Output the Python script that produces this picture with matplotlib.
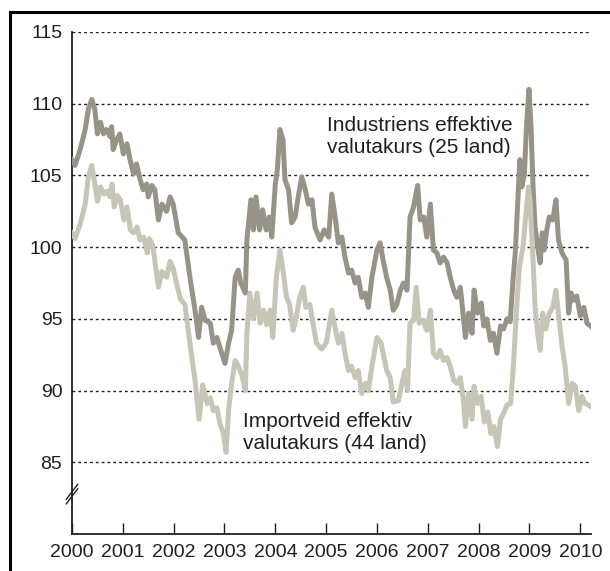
import matplotlib
matplotlib.use("Agg")
import matplotlib.pyplot as plt
import matplotlib.patches as patches

# Industriens effektive valutakurs (25 land) - decimal year, index
ind_years = [2000.00, 2000.06, 2000.16, 2000.26, 2000.32, 2000.39, 2000.45, 2000.50, 2000.56, 2000.62,
             2000.68, 2000.75, 2000.78, 2000.81, 2000.88, 2000.94, 2001.01, 2001.08, 2001.13, 2001.21,
             2001.27, 2001.34, 2001.40, 2001.47, 2001.50, 2001.57, 2001.63, 2001.70, 2001.77, 2001.86,
             2001.93, 2001.99, 2002.09, 2002.22, 2002.32, 2002.42, 2002.49, 2002.55, 2002.62, 2002.72,
             2002.78, 2002.85, 2002.91, 2003.01, 2003.08, 2003.14, 2003.21, 2003.27, 2003.32, 2003.41,
             2003.44, 2003.52, 2003.57, 2003.62, 2003.69, 2003.75, 2003.82, 2003.88, 2003.93, 2004.00,
             2004.04, 2004.09, 2004.15, 2004.19, 2004.26, 2004.32, 2004.39, 2004.45, 2004.52, 2004.59,
             2004.65, 2004.72, 2004.78, 2004.88, 2004.96, 2005.05, 2005.11, 2005.18, 2005.24, 2005.31,
             2005.37, 2005.44, 2005.50, 2005.57, 2005.63, 2005.70, 2005.77, 2005.83, 2005.90, 2006.00,
             2006.06, 2006.12, 2006.19, 2006.26, 2006.32, 2006.39, 2006.46, 2006.52, 2006.59, 2006.65,
             2006.72, 2006.80, 2006.85, 2006.92, 2006.98, 2007.05, 2007.11, 2007.18, 2007.24, 2007.31,
             2007.38, 2007.44, 2007.51, 2007.57, 2007.64, 2007.74, 2007.80, 2007.87, 2007.91, 2007.98,
             2008.05, 2008.10, 2008.16, 2008.23, 2008.29, 2008.36, 2008.43, 2008.49, 2008.56, 2008.62,
             2008.68, 2008.72, 2008.77, 2008.81, 2008.85, 2008.90, 2008.94, 2008.99, 2009.03, 2009.07,
             2009.11, 2009.16, 2009.21, 2009.25, 2009.29, 2009.34, 2009.39, 2009.46, 2009.52, 2009.57,
             2009.64, 2009.72, 2009.77, 2009.82, 2009.87, 2009.93, 2010.00, 2010.07, 2010.13, 2010.20]
ind_values = [106.1, 105.7, 106.8, 108.2, 109.6, 110.3, 109.6, 107.9, 108.7, 107.9,
              108.2, 107.7, 108.4, 106.8, 107.5, 107.9, 106.5, 107.2, 106.3, 105.1,
              105.8, 104.7, 104.0, 104.4, 103.5, 104.3, 104.0, 101.9, 103.0, 102.5,
              103.5, 103.0, 101.0, 100.5, 97.9, 95.6, 93.7, 95.8, 94.9, 94.7,
              93.3, 93.7, 93.0, 91.9, 93.3, 94.2, 97.9, 98.4, 97.5, 96.8,
              100.5, 103.3, 101.2, 103.5, 101.2, 102.6, 101.2, 102.1, 100.7, 104.4,
              105.4, 108.2, 107.5, 104.7, 104.0, 101.7, 102.1, 103.5, 104.9, 104.0,
              103.0, 103.3, 101.4, 100.5, 101.2, 100.7, 103.7, 102.0, 100.3, 100.7,
              99.3, 98.2, 98.4, 97.5, 97.9, 96.5, 96.8, 95.8, 97.9, 99.8,
              100.3, 99.1, 97.9, 97.0, 95.6, 96.0, 97.0, 97.5, 97.0, 102.1,
              102.8, 104.3, 101.9, 102.1, 100.7, 103.0, 99.8, 99.6, 98.9, 99.3,
              98.9, 97.9, 97.0, 96.5, 97.2, 93.7, 95.4, 94.0, 97.0, 95.4,
              96.1, 94.5, 95.0, 93.5, 94.0, 92.6, 94.5, 94.3, 95.0, 94.8,
              97.9, 99.6, 103.3, 106.1, 104.2, 105.1, 108.4, 111.0, 108.4, 104.2,
              101.4, 100.0, 98.9, 101.0, 99.8, 101.2, 102.1, 101.9, 103.3, 100.5,
              99.6, 99.1, 95.4, 96.8, 96.3, 96.6, 95.2, 95.8, 94.7, 94.5]

# Importveid effektiv valutakurs (44 land)
imp_years = [2000.00, 2000.06, 2000.16, 2000.26, 2000.32, 2000.39, 2000.45, 2000.50, 2000.56, 2000.63,
             2000.69, 2000.75, 2000.79, 2000.83, 2000.89, 2000.95, 2001.02, 2001.08, 2001.15, 2001.21,
             2001.28, 2001.34, 2001.41, 2001.48, 2001.52, 2001.59, 2001.70, 2001.77, 2001.86, 2001.93,
             2001.99, 2002.13, 2002.22, 2002.32, 2002.42, 2002.50, 2002.57, 2002.66, 2002.72, 2002.78,
             2002.85, 2002.91, 2002.98, 2003.03, 2003.08, 2003.14, 2003.21, 2003.27, 2003.34, 2003.41,
             2003.44, 2003.50, 2003.57, 2003.64, 2003.70, 2003.77, 2003.83, 2003.90, 2003.95, 2004.02,
             2004.09, 2004.15, 2004.22, 2004.28, 2004.35, 2004.41, 2004.48, 2004.55, 2004.60, 2004.68,
             2004.74, 2004.81, 2004.91, 2005.00, 2005.11, 2005.18, 2005.24, 2005.31, 2005.37, 2005.44,
             2005.50, 2005.57, 2005.63, 2005.70, 2005.77, 2005.83, 2005.90, 2006.00, 2006.08, 2006.12,
             2006.19, 2006.26, 2006.32, 2006.42, 2006.49, 2006.55, 2006.60, 2006.65, 2006.72, 2006.77,
             2006.83, 2006.90, 2006.98, 2007.05, 2007.11, 2007.18, 2007.24, 2007.31, 2007.38, 2007.44,
             2007.51, 2007.57, 2007.64, 2007.70, 2007.74, 2007.80, 2007.87, 2007.91, 2007.98, 2008.05,
             2008.11, 2008.18, 2008.24, 2008.30, 2008.37, 2008.43, 2008.50, 2008.56, 2008.63, 2008.69,
             2008.74, 2008.80, 2008.87, 2008.92, 2008.98, 2009.01, 2009.07, 2009.11, 2009.16, 2009.21,
             2009.26, 2009.32, 2009.39, 2009.46, 2009.52, 2009.57, 2009.64, 2009.70, 2009.77, 2009.84,
             2009.90, 2009.97, 2010.03, 2010.10, 2010.20]
imp_values = [101.0, 100.6, 101.6, 103.0, 104.9, 105.7, 104.4, 103.2, 104.2, 103.7,
              103.9, 103.5, 104.4, 102.8, 103.6, 103.3, 101.9, 102.8, 101.2, 101.0,
              101.4, 100.5, 100.7, 99.6, 100.6, 100.1, 97.2, 98.3, 97.9, 99.0,
              98.5, 96.4, 96.0, 93.3, 90.7, 88.0, 90.4, 89.1, 89.5, 88.6,
              88.8, 87.7, 87.0, 85.7, 88.6, 90.5, 92.1, 91.7, 91.1, 90.0,
              94.0, 96.8, 95.0, 96.8, 94.7, 95.6, 94.6, 95.6, 93.7, 97.9,
              99.8, 98.4, 96.5, 96.0, 94.2, 95.1, 96.5, 97.2, 95.8, 96.0,
              94.7, 93.3, 92.9, 93.3, 95.6, 94.3, 93.3, 94.0, 92.6, 91.4,
              91.7, 90.9, 91.4, 89.8, 90.5, 90.0, 91.7, 93.7, 93.3, 92.6,
              91.4, 90.9, 89.2, 89.3, 90.5, 91.4, 90.0, 94.7, 94.9, 97.2,
              94.7, 94.9, 94.2, 95.6, 92.6, 92.3, 92.8, 92.1, 92.3, 91.7,
              90.7, 90.5, 90.9, 89.3, 87.5, 89.8, 88.0, 90.3, 89.1, 89.6,
              87.8, 88.5, 87.0, 87.5, 86.1, 88.0, 88.5, 89.0, 89.1, 92.1,
              95.4, 98.6, 100.0, 101.9, 104.2, 103.3, 99.1, 95.8, 94.0, 92.8,
              95.4, 94.3, 95.4, 95.8, 97.0, 95.4, 93.1, 91.7, 89.1, 90.5,
              90.3, 88.6, 89.6, 89.1, 88.9]

year_ticks = list(range(2000, 2011))
y_ticks = [85, 90, 95, 100, 105, 110, 115]

dark = "#979487"
light = "#c6c5b6"
ink = "#231f20"

plt.rcParams['font.family'] = ['Liberation Sans', 'DejaVu Sans']

fig = plt.figure(figsize=(6.10, 5.71), dpi=100)
ax = fig.add_axes([72/610, 1-534/571, (591-72)/610, (534-32)/571])

ax.plot(ind_years, ind_values, color=dark, lw=3.6, solid_joinstyle='round', zorder=3)
ax.plot(imp_years, imp_values, color=light, lw=3.6, solid_joinstyle='round', zorder=4)

ax.set_xlim(2000, 2010.21)
ax.set_ylim(80, 115)
ax.set_yticks(y_ticks)
ax.set_xticks(year_ticks)
ax.set_xticklabels([str(y) for y in year_ticks])

for v in y_ticks:
    ax.axhline(v, color=ink, lw=1.0, ls=(0, (2, 2.2)), zorder=1)

for s in ['top', 'right']:
    ax.spines[s].set_visible(False)
for s in ['left', 'bottom']:
    ax.spines[s].set_color(ink)
    ax.spines[s].set_linewidth(1.3)

ax.tick_params(axis='x', direction='in', length=8, width=1, color=ink, pad=7,
               labelsize=14, labelcolor=ink)
ax.tick_params(axis='y', length=0, pad=7, labelsize=14, labelcolor=ink)

# axis break marks on the y axis
for dy in [0, 0.009]:
    ax.plot([-0.011, 0.011], [0.060 + dy, 0.090 + dy], color=ink, lw=1.0,
            transform=ax.transAxes, clip_on=False)

ax.text(2005.02, 108.1, "Industriens effektive", fontsize=15, color=ink, va='baseline')
ax.text(2005.02, 106.56, "valutakurs (25 land)", fontsize=15, color=ink, va='baseline')
ax.text(2003.36, 87.45, "Importveid effektiv", fontsize=15, color=ink, va='baseline')
ax.text(2003.36, 85.92, "valutakurs (44 land)", fontsize=15, color=ink, va='baseline')

# outer frame
frame = patches.Rectangle((10/610, -0.2), 1.5, 1.2 - 12/571, transform=fig.transFigure,
                          fill=False, edgecolor='black', lw=2.2, clip_on=False)
fig.patches.append(frame)

fig.savefig("out.png", dpi=100)
